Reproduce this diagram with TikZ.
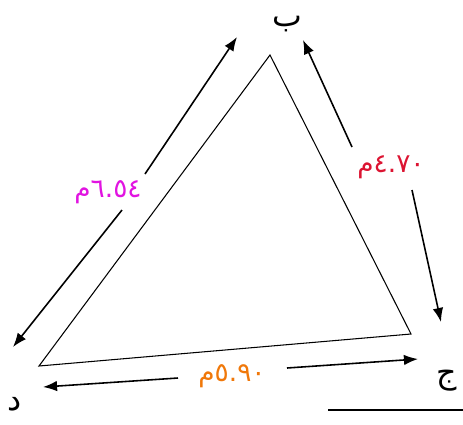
\documentclass[tikz,border=0pt]{standalone}
\usepackage{fontspec}
\usepackage{xcolor}
\usetikzlibrary{arrows.meta}
\newfontfamily\arabicfont[Script=Arabic]{DejaVu Sans}
\TeXXeTstate=1
\definecolor{lenpink}{RGB}{225,20,225}
\definecolor{lenred}{RGB}{220,20,50}
\definecolor{lenorange}{RGB}{240,120,10}

\begin{document}
\begin{tikzpicture}[x=0.02cm, y=-0.02cm, >={Latex[length=8pt,width=6pt]},
  side/.style={draw, line width=0.6pt},
  dimarrow/.style={->, line width=0.9pt},
  vertex/.style={font=\arabicfont\fontsize{18}{20}\selectfont, inner sep=0pt},
  lenlabel/.style={font=\arabicfont\fontsize{15}{17}\selectfont, inner sep=1pt}]
  \useasboundingbox (0,0) rectangle (463,424);
  % corners of the triangle
  \coordinate (b) at (270,55);
  \coordinate (d) at (39,366);
  \coordinate (j) at (411,334);
  \draw[side] (b) -- (d) -- (j) -- cycle;
  % letters at the corners
  \node[vertex] (lb) at (287,24) {\beginR ب\endR};
  \node[vertex] (ld) at (15,404) {\beginR د\endR};
  \node[vertex] (lj) at (447,381) {\beginR ج\endR};
  % side lengths
  \node[lenlabel, text=lenpink] (bd) at (108,192) {\beginR ٦.٥٤م\endR};
  \node[lenlabel, text=lenred] (bj) at (391,167) {\beginR ٤.٧٠م\endR};
  \node[lenlabel, text=lenorange] (dj) at (232,376) {\beginR ٥.٩٠م\endR};
  % ends of the arrows
  \coordinate (bdA) at (145,174);
  \coordinate (bdB) at (122,210);
  \coordinate (bdTop) at (237,37);
  \coordinate (bdLow) at (13,347);
  \coordinate (bjA) at (352,147);
  \coordinate (bjB) at (412,190);
  \coordinate (bjTop) at (303,40);
  \coordinate (bjLow) at (441,322);
  \coordinate (djA) at (178,378);
  \coordinate (djB) at (287,368);
  \coordinate (djLeft) at (43,387);
  \coordinate (djRight) at (418,359);
  \draw[dimarrow] (bdA) -- (bdTop);
  \draw[dimarrow] (bdB) -- (bdLow);
  \draw[dimarrow] (bjA) -- (bjTop);
  \draw[dimarrow] (bjB) -- (bjLow);
  \draw[dimarrow] (djA) -- (djLeft);
  \draw[dimarrow] (djB) -- (djRight);
  % rule under the picture
  \coordinate (ruleL) at (328,410);
  \coordinate (ruleR) at (463,410);
  \draw[line width=1.3pt] (ruleL) -- (ruleR);
\end{tikzpicture}
\end{document}
